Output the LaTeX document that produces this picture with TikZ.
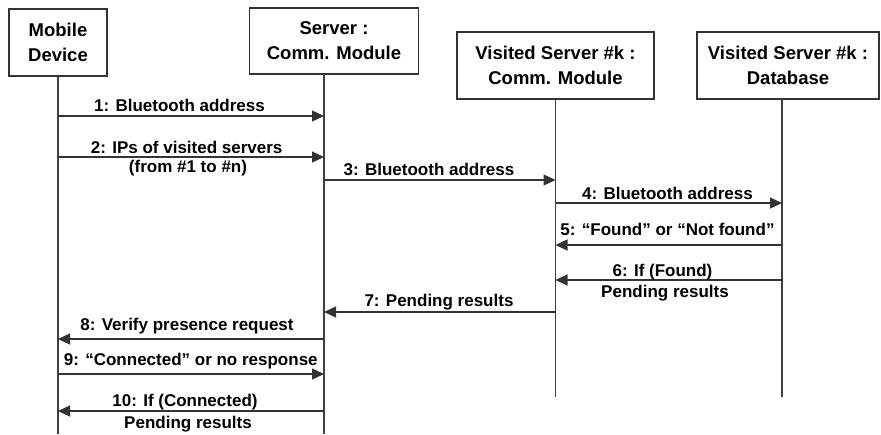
\documentclass[tikz,border=0pt]{standalone}
\usepackage{fontspec}
\setmainfont{Liberation Sans}
\usetikzlibrary{arrows.meta}
\begin{document}
\begin{tikzpicture}[x=1pt,y=-1pt,
  obj/.style={draw=black!80, line width=1.3pt, align=center, inner sep=0pt,
    font=\fontsize{18.5}{25}\selectfont\bfseries},
  life/.style={draw=black!75, line width=1.3pt},
  msg/.style={draw=black!80, line width=1.3pt, -{Triangle[length=12pt,width=11pt]}},
  lbl/.style={font=\fontsize{17}{21}\selectfont\bfseries, anchor=base, inner sep=0pt}]
\useasboundingbox (0,0) rectangle (881,434);

% participants
\node[obj, minimum width=98, minimum height=67] (mob) at (58,42.5) {Mobile\\Device};
\node[obj, minimum width=169, minimum height=66] (srv) at (334,41) {Server :\\Comm. Module};
\node[obj, minimum width=197, minimum height=67] (vcm) at (555.5,65.5) {Visited Server \#k :\\Comm. Module};
\node[obj, minimum width=182, minimum height=67] (vdb) at (788,65.5) {Visited Server \#k :\\Database};

% lifelines
\coordinate (mobL) at (mob.south);
\coordinate (srvL) at (324,74);
\coordinate (vcmL) at (vcm.south);
\coordinate (vdbL) at (782,99);
\coordinate (mobE) at (mobL |- 0,434);
\coordinate (srvE) at (srvL |- 0,434);
\coordinate (vcmE) at (vcmL |- 0,397);
\coordinate (vdbE) at (vdbL |- 0,397);
\draw[life] (mobL) -- (mobE);
\draw[life] (srvL) -- (srvE);
\draw[life] (vcmL) -- (vcmE);
\draw[life] (vdbL) -- (vdbE);

% messages
\draw[msg] (mobL |- 0,116) -- (srvL |- 0,116);
\node[lbl] (t1) at (179.5,111.5) {1: Bluetooth address};

\draw[msg] (mobL |- 0,157) -- (srvL |- 0,157);
\node[lbl] (t2a) at (186.7,153) {2: IPs of visited servers};
\node[lbl] (t2b) at (188,172) {(from \#1 to \#n)};

\draw[msg] (srvL |- 0,180) -- (vcmL |- 0,180);
\node[lbl] (t3) at (429,175) {3: Bluetooth address};

\draw[msg] (vcmL |- 0,203) -- (vdbL |- 0,203);
\node[lbl] (t4) at (667.5,199.5) {4: Bluetooth address};

\draw[msg] (vdbL |- 0,245) -- (vcmL |- 0,245);
\node[lbl] (t5) at (667.5,235) {5: “Found” or “Not found”};

\draw[msg] (vdbL |- 0,280) -- (vcmL |- 0,280);
\node[lbl] (t6a) at (662.5,276) {6: If (Found)};
\node[lbl] (t6b) at (665,297) {Pending results};

\draw[msg] (vcmL |- 0,312) -- (srvL |- 0,312);
\node[lbl] (t7) at (439,306) {7: Pending results};

\draw[msg] (srvL |- 0,339) -- (mobL |- 0,339);
\node[lbl] (t8) at (187,330) {8: Verify presence request};

\draw[msg] (mobL |- 0,374) -- (srvL |- 0,374);
\node[lbl] (t9) at (190.8,365.5) {9: “Connected” or no response};

\draw[msg] (srvL |- 0,411) -- (mobL |- 0,411);
\node[lbl] (t10a) at (185,406) {10: If (Connected)};
\node[lbl] (t10b) at (188,428) {Pending results};
\end{tikzpicture}
\end{document}
